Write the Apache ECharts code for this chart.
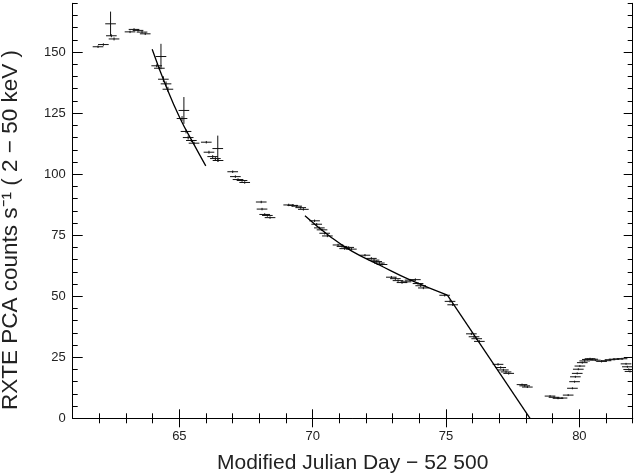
<!DOCTYPE html>
<html>
<head>
<meta charset="utf-8">
<script src="https://cdn.jsdelivr.net/npm/echarts@6/dist/echarts.min.js"></script>
<style>
  html, body { margin: 0; padding: 0; background: #fff; }
  #chart { width: 637px; height: 474px; }
</style>
</head>
<body>
<div id="chart"></div>
<script>
// tick positions
var xMajorTicks = [65, 70, 75, 80];
var xMinorTicks = [62, 63, 64, 66, 67, 68, 69, 71, 72, 73, 74, 76, 77, 78, 79, 81, 82];
var yMajorTicks = [0, 25, 50, 75, 100, 125, 150];
var yMinorTicks = [5, 10, 15, 20, 30, 35, 40, 45, 55, 60, 65, 70, 80, 85, 90, 95,
  105, 110, 115, 120, 130, 135, 140, 145, 155, 160, 165, 170];

// observations: MJD - 52500, count rate, 1-sigma error
var obsMjd = [61.95, 62.15, 62.42, 62.45, 62.55, 63.15, 63.3, 63.45, 63.6, 63.72,
  64.15, 64.25, 64.31, 64.4, 64.5, 64.57, 65.1, 65.17, 65.25, 65.33, 65.45, 65.55,
  66.01, 66.11, 66.25, 66.35, 66.44, 66.45,
  67.0, 67.1, 67.2, 67.35, 67.45,
  68.07, 68.1, 68.2, 68.3, 68.4,
  69.1, 69.25, 69.4, 69.55, 69.65,
  70.07, 70.15, 70.25, 70.35, 70.45, 70.55,
  70.95, 71.1, 71.2, 71.35, 71.45,
  71.96, 72.2, 72.3, 72.4, 72.5, 72.6,
  72.95, 73.1, 73.2, 73.35, 73.5, 73.65, 73.85, 73.95, 74.05, 74.15,
  74.95, 75.15, 75.25,
  75.95, 76.05, 76.15, 76.25,
  76.95, 77.05, 77.15, 77.25, 77.35,
  77.85, 77.95, 78.05,
  78.9, 79.05, 79.2, 79.35,
  79.58, 79.74, 79.82, 79.85, 79.92, 79.96, 80.02, 80.11, 80.2, 80.3, 80.4, 80.5, 80.6,
  80.83, 81.0, 81.15, 81.3, 81.45, 81.6, 81.75, 81.8, 81.85, 81.9];
var obsRate = [152.2, 153.1, 161.6, 156.7, 155.4, 158.3, 159.3, 158.9, 158.2, 157.5,
  144.4, 143.4, 148.2, 138.9, 137.0, 134.8, 122.8, 126.1, 117.5, 115.0, 113.8, 112.7,
  113.1, 109.0, 107.2, 106.4, 110.5, 105.6,
  101.0, 99.0, 97.8, 97.4, 96.6,
  88.6, 85.7, 83.5, 83.1, 82.2,
  87.4, 87.2, 86.9, 86.3, 85.6,
  80.9, 79.5, 78.0, 77.2, 75.8, 74.7,
  71.0, 70.4, 69.5, 70.0, 69.3,
  66.8, 65.5, 64.8, 64.2, 63.6, 63.0,
  57.8, 57.2, 56.4, 55.6, 55.9, 56.6, 56.8, 55.2, 54.3, 53.4,
  50.4, 47.9, 46.5,
  34.6, 33.4, 32.6, 31.5,
  22.1, 20.8, 19.8, 19.0, 18.4,
  13.8, 13.3, 12.8,
  9.1, 8.6, 8.2, 8.3,
  9.5, 12.3, 15.0, 17.0, 18.4, 20.1, 21.4, 22.8, 23.5, 24.1, 24.4, 24.2, 23.8,
  23.3, 23.6, 24.0, 24.2, 24.3, 24.4, 22.3, 21.1, 20.0, 19.2];
var obsErr = [0.5, 0.5, 5.0, 0.6, 0.6, 0.5, 0.5, 0.5, 0.5, 0.5,
  0.6, 0.6, 5.2, 1.2, 1.0, 1.0, 1.0, 5.5, 0.8, 0.8, 0.6, 0.6,
  0.5, 0.6, 0.6, 0.6, 5.3, 0.6,
  0.5, 0.5, 0.5, 0.5, 0.5,
  0.5, 0.5, 0.5, 0.5, 0.5,
  0.5, 0.5, 0.5, 0.5, 0.5,
  0.5, 0.5, 0.5, 0.5, 0.5, 0.5,
  0.5, 0.5, 0.5, 0.5, 0.5,
  0.5, 0.5, 0.5, 0.5, 0.5, 0.5,
  0.5, 0.5, 0.5, 0.5, 0.5, 0.5, 0.5, 0.5, 0.5, 0.5,
  0.5, 0.5, 0.5,
  0.5, 0.5, 0.5, 0.5,
  0.5, 0.5, 0.5, 0.5, 0.5,
  0.4, 0.4, 0.4,
  0.4, 0.4, 0.4, 0.4,
  0.4, 0.4, 0.4, 0.4, 0.4, 0.4, 0.4, 0.4, 0.4, 0.4, 0.4, 0.4, 0.4,
  0.4, 0.4, 0.4, 0.4, 0.4, 0.4, 0.4, 0.4, 0.4, 0.4];
var binHalfWidth = 0.2; // days

// fitted decays
var fitEarlyMjd = [63.98, 64.52, 65.02, 65.52, 65.99];
var fitEarlyRate = [151.2, 135.5, 123.0, 112.7, 103.4];
var fitMidMjd = [69.71, 70.65, 71.45, 72.5, 73.65, 75.05];
var fitMidRate = [83.0, 74.5, 68.6, 62.8, 56.7, 50.5];
var fitLateMjd = [75.05, 78.15];
var fitLateRate = [50.5, 0];

function zip2(a, b) {
  return a.map(function (v, i) { return [v, b[i]]; });
}

var obsData = obsMjd.map(function (v, i) { return [v, obsRate[i], obsErr[i]]; });

var chart = echarts.init(document.getElementById("chart"), null, { renderer: "canvas" });

var labelFont = {
  color: "#222",
  fontFamily: "Liberation Sans",
  fontSize: 13,
};

function xAxisOf(position, ticks, len, withLabels) {
  return {
    type: "value",
    min: 61,
    max: 82,
    position: position,
    axisLine: { show: withLabels !== null, lineStyle: { color: "#000", width: 1 } },
    axisTick: { show: true, inside: true, length: len, customValues: ticks, lineStyle: { color: "#000" } },
    axisLabel: withLabels ? Object.assign({ customValues: ticks, margin: 12 }, labelFont) : { show: false },
    splitLine: { show: false },
  };
}
function yAxisOf(position, ticks, len, withLabels) {
  return {
    type: "value",
    min: 0,
    max: 170,
    position: position,
    axisLine: { show: withLabels !== null, lineStyle: { color: "#000", width: 1 } },
    axisTick: { show: true, inside: true, length: len, customValues: ticks, lineStyle: { color: "#000" } },
    axisLabel: withLabels ? Object.assign({ customValues: ticks, margin: 7 }, labelFont) : { show: false },
    splitLine: { show: false },
  };
}

var xMain = xAxisOf("bottom", xMajorTicks, 9, true);
xMain.name = "Modified Julian Day \u2212 52 500";
xMain.nameLocation = "middle";
xMain.nameGap = 34;
xMain.nameTextStyle = { color: "#222", fontFamily: "Liberation Sans", fontSize: 21 };

var option = {
  animation: false,
  backgroundColor: "#fff",
  grid: { left: 72.7, right: 4.3, top: 3.3, bottom: 55.7, containLabel: false, outerBoundsMode: "none" },
  xAxis: [
    xMain,
    xAxisOf("bottom", xMinorTicks, 5, null),
    xAxisOf("top", xMajorTicks, 9, false),
    xAxisOf("top", xMinorTicks, 5, null),
  ],
  yAxis: [
    yAxisOf("left", yMajorTicks, 10, true),
    yAxisOf("left", yMinorTicks, 5, null),
    yAxisOf("right", yMajorTicks, 9, false),
    yAxisOf("right", yMinorTicks, 5, null),
  ],
  graphic: [
    {
      type: "text",
      x: 11,
      y: 230,
      rotation: Math.PI / 2,
      style: {
        text: "RXTE PCA counts s\u207B\u00B9 ( 2 \u2212 50 keV )",
        fill: "#222",
        font: "22.5px 'Liberation Sans'",
        textAlign: "center",
        textVerticalAlign: "middle",
      },
    },
  ],
  series: [
    {
      type: "custom",
      xAxisIndex: 0,
      yAxisIndex: 0,
      clip: true,
      encode: { x: 0, y: 1 },
      data: obsData,
      renderItem: function (params, api) {
        var x = api.value(0), y = api.value(1), e = api.value(2);
        var l = api.coord([x - binHalfWidth, y]);
        var r = api.coord([x + binHalfWidth, y]);
        var t = api.coord([x, y + e]);
        var b = api.coord([x, y - e]);
        return {
          type: "group",
          children: [
            { type: "line", shape: { x1: l[0], y1: l[1], x2: r[0], y2: r[1] }, style: { stroke: "#111", lineWidth: 1 } },
            { type: "line", shape: { x1: t[0], y1: t[1], x2: b[0], y2: b[1] }, style: { stroke: "#111", lineWidth: 1 } },
          ],
        };
      },
    },
    {
      type: "line",
      smooth: true,
      showSymbol: false,
      data: zip2(fitEarlyMjd, fitEarlyRate),
      lineStyle: { color: "#000", width: 1.3 },
    },
    {
      type: "line",
      smooth: true,
      showSymbol: false,
      data: zip2(fitMidMjd, fitMidRate),
      lineStyle: { color: "#000", width: 1.3 },
    },
    {
      type: "line",
      showSymbol: false,
      data: zip2(fitLateMjd, fitLateRate),
      lineStyle: { color: "#000", width: 1.3 },
    },
  ],
};
chart.setOption(option);
</script>
</body>
</html>
